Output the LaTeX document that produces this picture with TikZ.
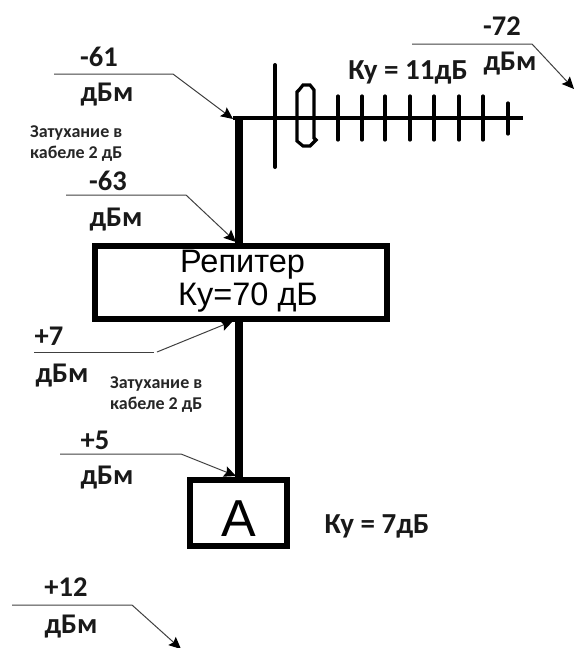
\documentclass[tikz,border=0pt]{standalone}
\usepackage{fontspec}
\setmainfont{Carlito}
\newfontfamily\arialfont{Liberation Sans}
\usetikzlibrary{arrows.meta}
\tikzset{
  lab/.style={font=\fontsize{28.5}{28.5}\selectfont\bfseries,inner sep=0pt,anchor=center,text=black!90},
  gain/.style={font=\fontsize{29}{29}\selectfont\bfseries,inner sep=0pt,anchor=center,text=black!90},
  note/.style={font=\fontsize{18}{21}\selectfont\bfseries,inner sep=0pt,align=left,anchor=west,text=black!85},
  reptxt/.style={inner sep=0pt,anchor=base west,font=\arialfont\fontsize{32.5}{32.5}\selectfont},
  leader/.style={draw=black!75,line width=1pt,-{Stealth[length=12pt,width=11pt,inset=2pt,black]}},
  heavybox/.style={draw=black,line width=6pt,fill=white,inner sep=0pt,minimum width=0pt},
  mast/.style={draw=black,line width=8pt},
  elem/.style={draw=black,line width=3.2pt,line cap=round},
}
\begin{document}
\begin{tikzpicture}[x=1pt,y=-1pt]
\useasboundingbox (0,0) rectangle (574,648);
% coordinates of antenna
\coordinate (mt) at (239,116.5);
\coordinate (boomend) at (523,118);
% mast and boxes
\node[heavybox,minimum width=292pt,minimum height=73pt] (rep) at (241,282.5) {};
\node[heavybox,minimum width=97pt,minimum height=66pt] (amp) at (238.5,513) {};
\draw[mast] (mt) -- (rep.north -| mt);
\draw[mast] (rep.south -| mt) -- (amp.north -| mt);
\node[reptxt] (reptext1) at (180,272) {Репитер};
\node[reptxt] (reptext2) at (178,305) {Ку=70 дБ};
\node[inner sep=0pt,font=\arialfont\fontsize{52}{52}\selectfont] (atext) at (239,519) {А};
% antenna
\draw[draw=black,line width=3.5pt] (233,118) -- (boomend);
\draw[elem,line width=4pt] (275,65) -- (275,167);
\draw[elem,line cap=butt] (299,90) -- (303,85) -- (310,85) -- (314,90) -- (314,138) -- (316,140) -- (310,146) -- (303,146) -- (297,141) -- (297,92) -- cycle;
\foreach \x in {338,362,385,410,434,459,483} \draw[elem] (\x,96) -- (\x,140);
\draw[elem] (508,103) -- (508,134);
% labels
\node[lab] (a1) at (502,26) {-72};
\node[lab] (a2) at (510,64) {дБм};
\node[gain] (g1) at (408,72) {Ку = 11дБ};
\coordinate (a3) at (412,44); \coordinate (a4) at (532,44); \coordinate (a5) at (574,89);
\draw[leader] (a3) -- (a4) -- (a5);
\node[lab] (b1) at (99,57) {-61};
\node[lab] (b2) at (107,95) {дБм};
\coordinate (b3) at (54,74); \coordinate (b4) at (173,74); \coordinate (b5) at (233,119);
\draw[leader] (b3) -- (b4) -- (b5);
\node[note] (n1) at (30,144) {Затухание в\\кабеле 2 дБ};
\node[lab] (c1) at (108,181) {-63};
\node[lab] (c2) at (116,220) {дБм};
\coordinate (c3) at (66,195); \coordinate (c4) at (186,195); \coordinate (c5) at (236,242);
\draw[leader] (c3) -- (c4) -- (c5);
\node[lab] (d1) at (49,336) {+7};
\node[lab] (d2) at (62,376) {дБм};
\coordinate (d3) at (34,352); \coordinate (d4) at (154,352); \coordinate (d5) at (157,352); \coordinate (d6) at (233,321);
\draw[draw=black!75,line width=1pt] (d3) -- (d4);
\draw[leader] (d5) -- (d6);
\node[note] (n2) at (110,395) {Затухание в\\кабеле 2 дБ};
\node[lab] (e1) at (95,440) {+5};
\node[lab] (e2) at (107,478) {дБм};
\coordinate (e3) at (60,454); \coordinate (e4) at (181,454); \coordinate (e5) at (236,476);
\draw[leader] (e3) -- (e4) -- (e5);
\node[gain] (g2) at (377,526) {Ку = 7дБ};
\node[lab] (f1) at (66,587) {+12};
\node[lab] (f2) at (71,627) {дБм};
\coordinate (f3) at (12,605); \coordinate (f4) at (132,605); \coordinate (f5) at (181,649);
\draw[leader] (f3) -- (f4) -- (f5);
\end{tikzpicture}
\end{document}
